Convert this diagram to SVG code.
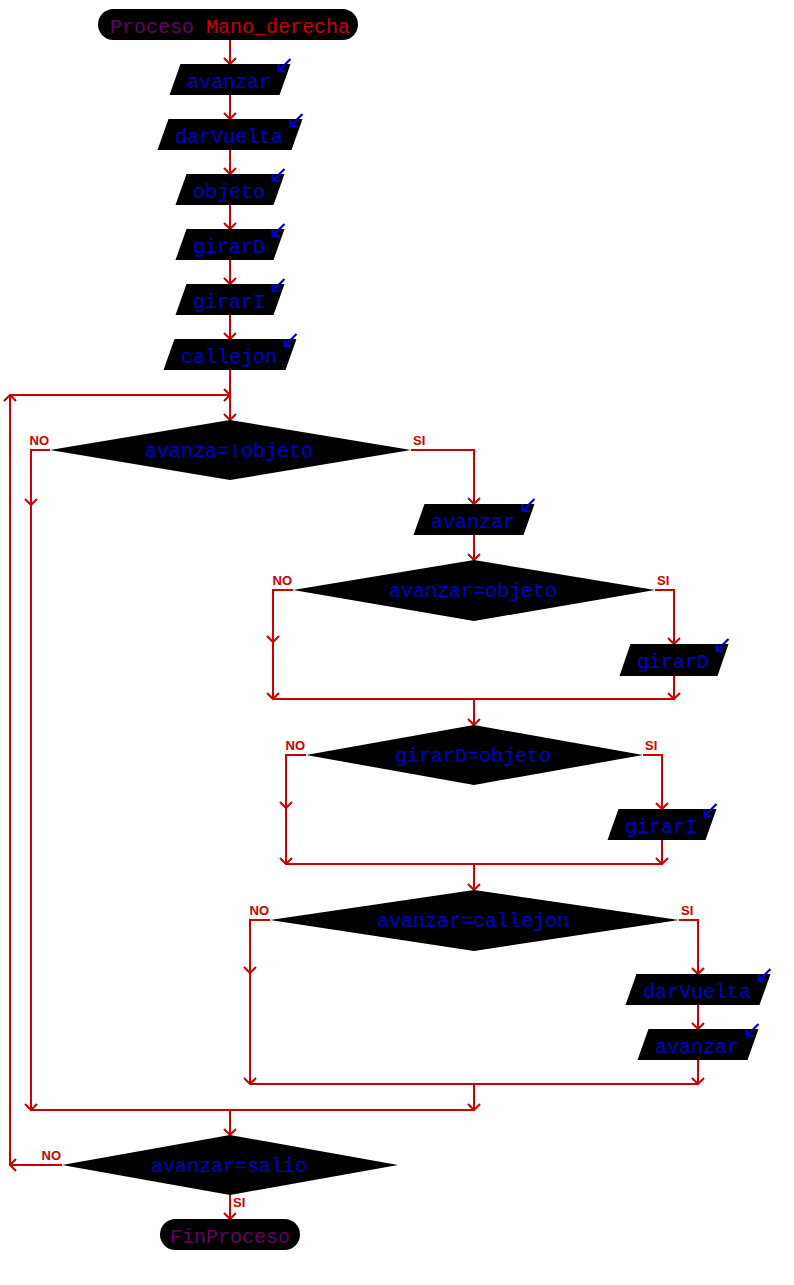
<svg xmlns="http://www.w3.org/2000/svg" width="794" height="1285" viewBox="0 0 794 1285">
<style>
.sh{fill:#000}
.t{font-family:"Liberation Mono","Courier New",monospace;font-size:20px;fill:#0000cc;text-anchor:middle}
.p{fill:#660066}
.r{fill:#cc0000}
.c{fill:none;stroke:#cc0000;stroke-width:2;marker-end:url(#a)}
.l{fill:none;stroke:#cc0000;stroke-width:2}
.lb{font-family:"Liberation Sans",Arial,sans-serif;font-weight:bold;font-size:13px;fill:#cc0000}
.ic{fill:none;stroke:#0000cc;stroke-width:2.2}
</style>
<defs>
<marker id="a" viewBox="-8 -8 9 16" refX="0" refY="0" markerWidth="9" markerHeight="16" markerUnits="userSpaceOnUse" orient="auto" overflow="visible">
<path d="M-6,-6 L0,0 L-6,6" fill="none" stroke="#cc0000" stroke-width="2"/>
</marker>
<path id="icon" class="ic" d="M0,-5 L-12,7 M-12,0 L-12,7 L-5,7"/>
</defs>
<rect width="794" height="1285" fill="#fff"/>

<g id="connectors">
<path class="c" d="M230,40 V64"/>
<path class="c" d="M230,95 V119"/>
<path class="c" d="M230,150 V174"/>
<path class="c" d="M230,205 V229"/>
<path class="c" d="M230,260 V284"/>
<path class="c" d="M230,315 V339"/>
<path class="c" d="M230,370 V420"/>
<path class="c" d="M62,1165 H10"/>
<path class="c" d="M10,1165 V395"/>
<path class="c" d="M10,395 H230"/>
<path class="c" d="M50,450 H31 V505"/>
<path class="c" d="M31,505 V1110"/>
<path class="c" d="M411,450 H474 V504"/>
<path class="c" d="M474,535 V560"/>
<path class="c" d="M293,590 H273 V642"/>
<path class="c" d="M273,642 V699"/>
<path class="c" d="M655,590 H674 V644"/>
<path class="c" d="M674,676 V699"/>
<path class="l" d="M273,699 H674"/>
<path class="c" d="M474,699 V725"/>
<path class="c" d="M306,755 H286 V808"/>
<path class="c" d="M286,808 V864"/>
<path class="c" d="M643,755 H662 V809"/>
<path class="c" d="M662,840 V864"/>
<path class="l" d="M286,864 H662"/>
<path class="c" d="M474,864 V890"/>
<path class="c" d="M270,920 H250 V973"/>
<path class="c" d="M250,973 V1084"/>
<path class="c" d="M679,920 H698 V974"/>
<path class="c" d="M698,1005 V1029"/>
<path class="c" d="M698,1060 V1084"/>
<path class="l" d="M250,1084 H698"/>
<path class="c" d="M474,1084 V1110"/>
<path class="l" d="M31,1110 H474"/>
<path class="c" d="M230,1110 V1135"/>
<path class="c" d="M230,1195 V1219"/>
</g>

<g id="start">
<rect class="sh" x="98" y="9" width="260" height="31" rx="15.5"/>
<text class="t" x="230" y="33"><tspan class="p">Proceso </tspan><tspan class="r">Mano_derecha</tspan></text>
</g>

<g id="io1">
<polygon class="sh" points="180.5,64 290.5,64 279.5,95 169.5,95"/>
<text class="t" x="229" y="88">avanzar</text>
<use href="#icon" x="290.5" y="64"/>
</g>
<g id="io2">
<polygon class="sh" points="168.5,119 302.5,119 291.5,150 157.5,150"/>
<text class="t" x="229" y="143">darVuelta</text>
<use href="#icon" x="302.5" y="119"/>
</g>
<g id="io3">
<polygon class="sh" points="186.5,174 284.5,174 273.5,205 175.5,205"/>
<text class="t" x="229" y="198">objeto</text>
<use href="#icon" x="284.5" y="174"/>
</g>
<g id="io4">
<polygon class="sh" points="186.5,229 284.5,229 273.5,260 175.5,260"/>
<text class="t" x="229" y="253">girarD</text>
<use href="#icon" x="284.5" y="229"/>
</g>
<g id="io5">
<polygon class="sh" points="186.5,284 284.5,284 273.5,315 175.5,315"/>
<text class="t" x="229" y="308">girarI</text>
<use href="#icon" x="284.5" y="284"/>
</g>
<g id="io6">
<polygon class="sh" points="174.5,339 296.5,339 285.5,370 163.5,370"/>
<text class="t" x="229" y="363">callejon</text>
<use href="#icon" x="296.5" y="339"/>
</g>

<g id="d1">
<polygon class="sh" points="50,450 230,420 411,450 230,480"/>
<text class="t" x="229" y="457">avanza=!objeto</text>
<text class="lb" x="49" y="445" text-anchor="end">NO</text>
<text class="lb" x="413" y="445">SI</text>
</g>

<g id="io7">
<polygon class="sh" points="424.5,504 534.5,504 523.5,535 413.5,535"/>
<text class="t" x="473" y="528">avanzar</text>
<use href="#icon" x="534.5" y="504"/>
</g>

<g id="d2">
<polygon class="sh" points="293,590 474,560 655,590 474,621"/>
<text class="t" x="473" y="597">avanzar=objeto</text>
<text class="lb" x="292" y="585" text-anchor="end">NO</text>
<text class="lb" x="657" y="585">SI</text>
</g>

<g id="io8">
<polygon class="sh" points="630.5,644 728.5,644 717.5,676 619.5,676"/>
<text class="t" x="673" y="668">girarD</text>
<use href="#icon" x="728.5" y="644"/>
</g>

<g id="d3">
<polygon class="sh" points="306,755 474,725 643,755 474,785"/>
<text class="t" x="473" y="762">girarD=objeto</text>
<text class="lb" x="305" y="750" text-anchor="end">NO</text>
<text class="lb" x="645" y="750">SI</text>
</g>

<g id="io9">
<polygon class="sh" points="618.5,809 716.5,809 705.5,840 607.5,840"/>
<text class="t" x="661" y="833">girarI</text>
<use href="#icon" x="716.5" y="809"/>
</g>

<g id="d4">
<polygon class="sh" points="270,920 474,890 679,920 474,951"/>
<text class="t" x="473" y="927">avanzar=callejon</text>
<text class="lb" x="269" y="915" text-anchor="end">NO</text>
<text class="lb" x="681" y="915">SI</text>
</g>

<g id="io10">
<polygon class="sh" points="636.5,974 770.5,974 759.5,1005 625.5,1005"/>
<text class="t" x="697" y="998">darVuelta</text>
<use href="#icon" x="770.5" y="974"/>
</g>
<g id="io11">
<polygon class="sh" points="648.5,1029 758.5,1029 747.5,1060 637.5,1060"/>
<text class="t" x="697" y="1053">avanzar</text>
<use href="#icon" x="758.5" y="1029"/>
</g>

<g id="d5">
<polygon class="sh" points="62,1165 230,1135 398,1165 230,1195"/>
<text class="t" x="229" y="1172">avanzar=salio</text>
<text class="lb" x="61" y="1160" text-anchor="end">NO</text>
<text class="lb" x="233" y="1207">SI</text>
</g>

<g id="end">
<rect class="sh" x="160" y="1219" width="140" height="31" rx="15.5"/>
<text class="t p" x="230" y="1243">FinProceso</text>
</g>
</svg>
